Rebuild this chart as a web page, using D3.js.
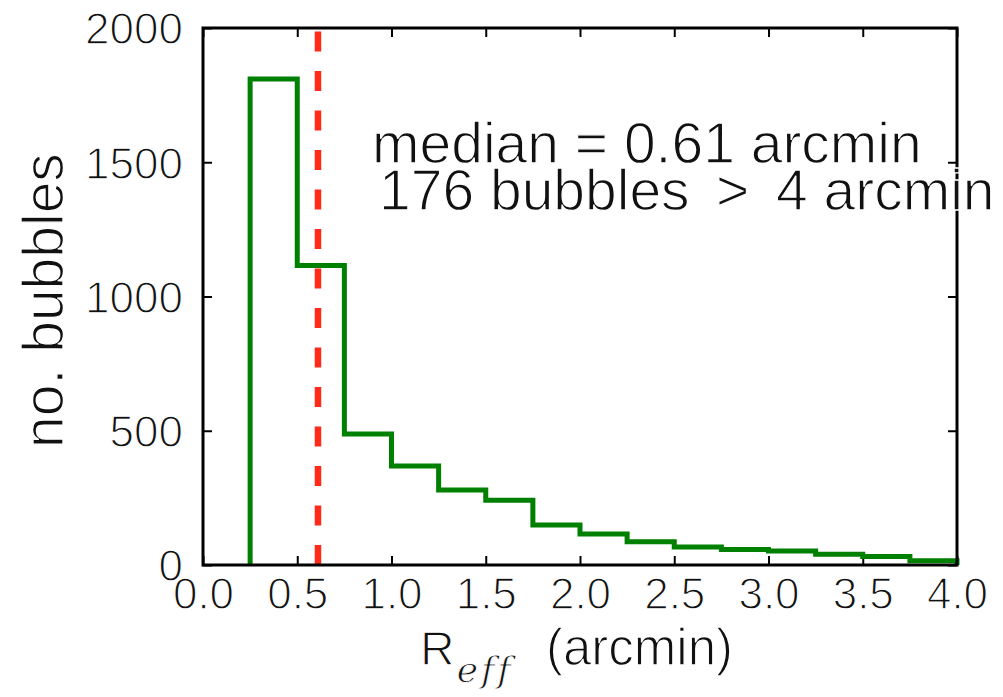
<!DOCTYPE html>
<html>
<head>
<meta charset="utf-8">
<script src="https://cdn.jsdelivr.net/npm/d3@7"></script>
<style>
  body { margin: 0; background: #fff; }
  text { font-family: "Liberation Sans", Arial, sans-serif; fill: #111; stroke: #fff; stroke-width: 1.3px; }
</style>
</head>
<body>
<div id="dataviz"></div>
<script>
// histogram bins (left edge, arcmin) and counts
var binStarts = [0.25, 0.5, 0.75, 1.0, 1.25, 1.5, 1.75, 2.0, 2.25, 2.5, 2.75, 3.0, 3.25, 3.5, 3.75];
var binCounts = [1810, 1115, 488, 369, 279, 241, 149, 115, 87, 67, 58, 52, 40, 32, 16];
var binWidth = 0.25;
var medianValue = 0.61;
var xTicks = [0, 0.5, 1, 1.5, 2, 2.5, 3, 3.5, 4];
var yTicks = [0, 500, 1000, 1500, 2000];

var W = 1003, H = 697;
var margin = {top: 28, right: 46, bottom: 132, left: 203};
var width = W - margin.left - margin.right;
var height = H - margin.top - margin.bottom;

var svg = d3.select("#dataviz")
  .append("svg")
    .attr("width", W)
    .attr("height", H)
  .append("g")
    .attr("transform", "translate(" + margin.left + "," + margin.top + ")");

var x = d3.scaleLinear().domain([0, 4]).range([0, width]);
var y = d3.scaleLinear().domain([0, 2000]).range([height, 0]);

// axes, ticks pointing inward on all four sides
var xAxis = svg.append("g")
  .attr("transform", "translate(0," + height + ")")
  .call(d3.axisBottom(x).tickValues(xTicks).tickFormat(d3.format(".1f"))
    .tickSizeInner(-9).tickSizeOuter(0).tickPadding(13));

var yAxis = svg.append("g")
  .call(d3.axisLeft(y).tickValues(yTicks).tickFormat(d3.format("d"))
    .tickSizeInner(-9).tickSizeOuter(0).tickPadding(20));

svg.append("g")
  .call(d3.axisTop(x).tickValues(xTicks).tickFormat("").tickSizeInner(-9).tickSizeOuter(0));

svg.append("g")
  .attr("transform", "translate(" + width + ",0)")
  .call(d3.axisRight(y).tickValues(yTicks).tickFormat("").tickSizeInner(-9).tickSizeOuter(0));

svg.selectAll(".domain").remove();
svg.selectAll(".tick line").attr("stroke", "#000").attr("stroke-width", 2);
svg.selectAll(".tick text")
  .style("font-size", "44px")
  .style("font-family", "'Liberation Sans', Arial, sans-serif")
  .attr("fill", "#111");
yAxis.selectAll(".tick text").attr("dy", "0.36em");

// step outline of the histogram
var pts = [[binStarts[0], 0]];
binStarts.forEach(function(b, i) {
  pts.push([b, binCounts[i]]);
  pts.push([b + binWidth, binCounts[i]]);
});
pts.push([binStarts[binStarts.length - 1] + binWidth, 0]);

svg.append("path")
  .datum(pts)
  .attr("fill", "none")
  .attr("stroke", "#008000")
  .attr("stroke-width", 5)
  .attr("stroke-linejoin", "miter")
  .attr("d", d3.line()
    .x(function(d) { return x(d[0]); })
    .y(function(d) { return y(d[1]); }));

// median marker
svg.append("line")
  .attr("x1", x(medianValue)).attr("x2", x(medianValue))
  .attr("y1", y(0)).attr("y2", y(2000))
  .attr("stroke", "#ff2a1a")
  .attr("stroke-width", 6.5)
  .attr("stroke-dasharray", "20,19.5");

// frame
svg.append("rect")
  .attr("x", 0).attr("y", 0)
  .attr("width", width).attr("height", height)
  .attr("fill", "none")
  .attr("stroke", "#000")
  .attr("stroke-width", 3);

// annotation
var note = svg.append("g").style("font-size", "57px");
note.append("text")
  .attr("x", 372 - margin.left).attr("y", 163 - margin.top)
  .text("median = 0.61 arcmin");
var line2 = note.append("text").attr("y", 210 - margin.top);
line2.append("tspan").attr("x", 379 - margin.left).text("176 bubbles");
line2.append("tspan").attr("x", 716 - margin.left).text(">");
line2.append("tspan").attr("x", 776 - margin.left).text("4 arcmin");

// x label
var xl = svg.append("text")
  .attr("x", 420 - margin.left)
  .attr("y", 665 - margin.top)
  .style("font-size", "48px");
xl.append("tspan").text("R");
xl.append("tspan")
  .attr("dy", 17)
  .attr("dx", 2)
  .style("font-family", "'DejaVu Serif', 'Liberation Serif', serif")
  .style("font-style", "italic")
  .style("font-size", "36px")
  .style("letter-spacing", "3px")
  .style("stroke-width", "0.8px")
  .text("eff");
xl.append("tspan")
  .attr("x", 546 - margin.left)
  .attr("dy", -17)
  .style("font-size", "51px")
  .text("(arcmin)");

// y label
svg.append("text")
  .attr("transform", "translate(" + (63 - margin.left) + "," + (height / 2 + 4) + ") rotate(-90)")
  .style("text-anchor", "middle")
  .style("font-size", "57px")
  .text("no. bubbles");
</script>
</body>
</html>
